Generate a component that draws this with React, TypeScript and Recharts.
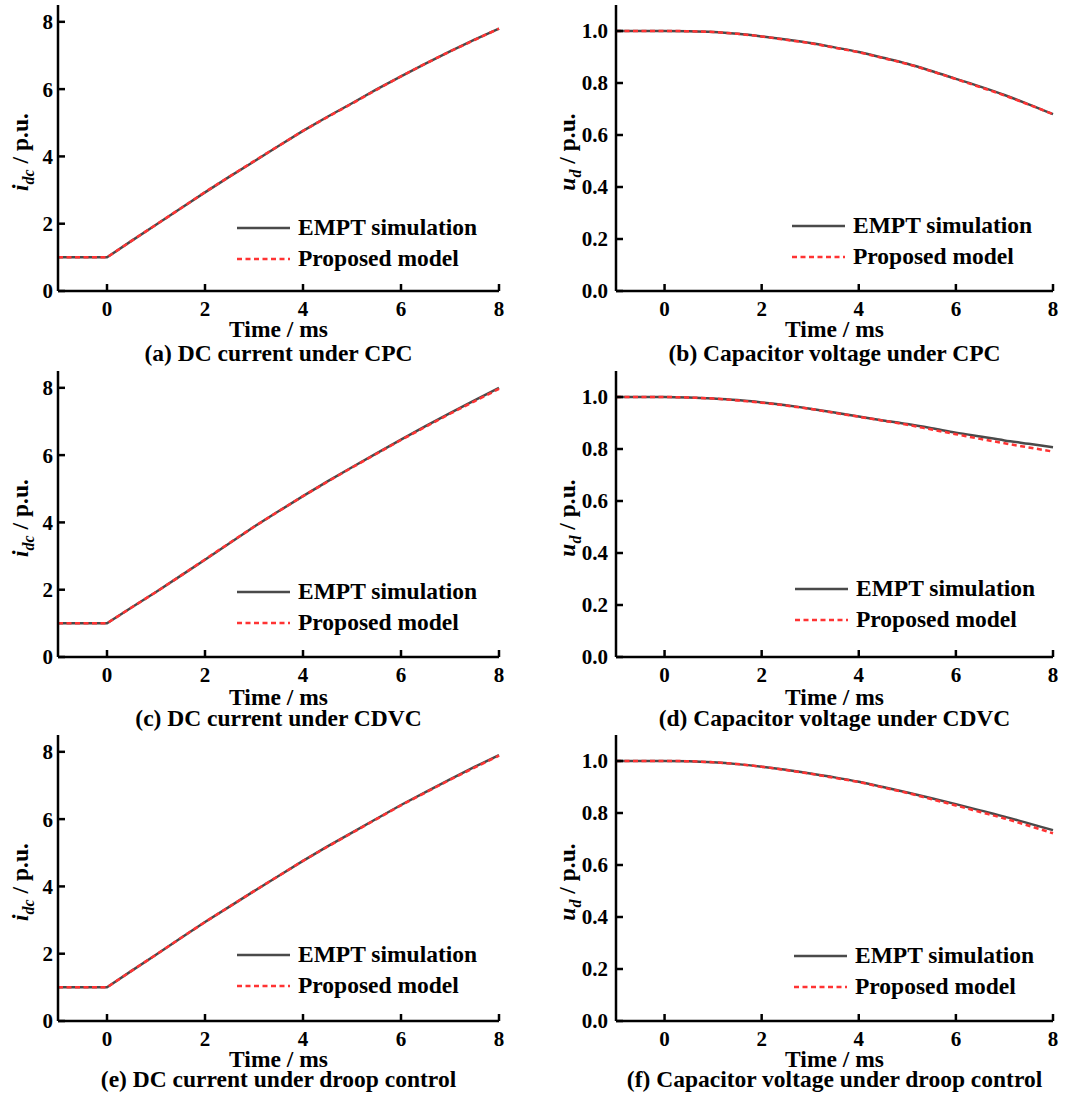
import { LineChart, Line, XAxis, YAxis, Legend } from 'recharts'

// time axis (ms), shared by every panel
const time = [-1, 0, 0.5, 1, 1.5, 2, 2.5, 3, 3.5, 4, 4.5, 5, 5.5, 6, 6.5, 7, 7.5, 8]
const timeTicks = [0, 2, 4, 6, 8]
const currentTicks = [0, 2, 4, 6, 8]
const voltageTicks = [0, 0.2, 0.4, 0.6, 0.8, 1.0]

// DC current (p.u.)
const idcCpcEmpt = [1, 1, 1.49, 1.97, 2.45, 2.93, 3.4, 3.85, 4.31, 4.76, 5.18, 5.58, 5.99, 6.38, 6.76, 7.12, 7.47, 7.8]
const idcCpcModel = [1, 1, 1.49, 1.97, 2.45, 2.94, 3.4, 3.86, 4.31, 4.76, 5.17, 5.57, 5.98, 6.38, 6.76, 7.12, 7.46, 7.8]
const idcCdvcEmpt = [1, 1, 1.47, 1.93, 2.41, 2.89, 3.38, 3.87, 4.33, 4.78, 5.22, 5.64, 6.05, 6.46, 6.86, 7.25, 7.63, 8.0]
const idcCdvcModel = [1, 1, 1.47, 1.93, 2.41, 2.9, 3.39, 3.87, 4.33, 4.78, 5.21, 5.63, 6.04, 6.45, 6.84, 7.23, 7.6, 7.97]
const idcDroopEmpt = [1, 1, 1.49, 1.97, 2.46, 2.94, 3.4, 3.86, 4.31, 4.76, 5.19, 5.6, 6.01, 6.42, 6.8, 7.18, 7.55, 7.9]
const idcDroopModel = [1, 1, 1.49, 1.97, 2.46, 2.94, 3.4, 3.86, 4.31, 4.76, 5.18, 5.59, 6.0, 6.41, 6.79, 7.17, 7.53, 7.89]

// capacitor voltage (p.u.)
const udCpcEmpt = [1, 1, 0.999, 0.996, 0.989, 0.979, 0.967, 0.954, 0.937, 0.919, 0.897, 0.874, 0.846, 0.816, 0.786, 0.754, 0.718, 0.68]
const udCpcModel = [1, 1, 0.999, 0.996, 0.989, 0.979, 0.966, 0.953, 0.936, 0.918, 0.896, 0.873, 0.845, 0.815, 0.784, 0.752, 0.717, 0.68]
const udCdvcEmpt = [1, 1, 0.998, 0.994, 0.988, 0.979, 0.968, 0.955, 0.94, 0.925, 0.91, 0.896, 0.88, 0.863, 0.848, 0.833, 0.82, 0.807]
const udCdvcModel = [1, 1, 0.998, 0.994, 0.987, 0.978, 0.967, 0.954, 0.939, 0.924, 0.909, 0.893, 0.875, 0.857, 0.839, 0.822, 0.806, 0.79]
const udDroopEmpt = [1, 1, 0.999, 0.995, 0.988, 0.978, 0.966, 0.952, 0.937, 0.92, 0.9, 0.879, 0.857, 0.834, 0.81, 0.786, 0.76, 0.734]
const udDroopModel = [1, 1, 0.999, 0.995, 0.988, 0.978, 0.965, 0.951, 0.935, 0.919, 0.898, 0.877, 0.853, 0.829, 0.804, 0.779, 0.751, 0.722]

const SERIF = "'Times New Roman', 'Liberation Serif', serif"
const EMPT_COLOR = '#4a4a4a'
const MODEL_COLOR = '#ff3333'
const MODEL_DASH = '5 3.5'

type PanelCfg = {
  left: number
  top: number
  width: number
  right: number
  yWidth: number
  kind: 'idc' | 'ud'
  empt: number[]
  model: number[]
  caption: string
  legendX: number
  legendY: number
  titleDy: number
  captionDy: number
  yTickMargin: number
}

const PLOT_H = 286

function LegendBox({ payload }: any) {
  return (
    <div style={{ fontFamily: SERIF, fontWeight: 'bold', fontSize: 23.5, color: '#000' }}>
      {(payload || []).map((p: any) => (
        <div key={p.value} style={{ display: 'flex', alignItems: 'center', height: 31, whiteSpace: 'nowrap' }}>
          <svg width={53} height={6}>
            <line
              x1={0} y1={3} x2={53} y2={3}
              stroke={p.color}
              strokeWidth={2.5}
              strokeDasharray={p.value === 'Proposed model' ? MODEL_DASH : undefined}
            />
          </svg>
          <span style={{ marginLeft: 8 }}>{p.value}</span>
        </div>
      ))}
    </div>
  )
}

function Panel({ cfg }: { cfg: PanelCfg }) {
  const data = time.map((t, i) => ({ t, empt: cfg.empt[i], model: cfg.model[i] }))
  const height = PLOT_H + 5 + 42
  const plotLeft = cfg.yWidth
  const plotRight = cfg.width - cfg.right
  const cx = (plotLeft + plotRight) / 2
  const plotBottom = 5 + PLOT_H
  const isI = cfg.kind === 'idc'
  const curve = isI ? 'linear' : 'monotone'
  const tickStyle = { fontFamily: SERIF, fontWeight: 'bold', fontSize: 21, fill: '#000' }
  const axisLine = { stroke: '#000', strokeWidth: 2.5 }
  const tickLine = { stroke: '#000', strokeWidth: 2.5 }
  const textStyle = {
    position: 'absolute' as const,
    fontFamily: SERIF, fontWeight: 'bold', fontSize: 23.5, whiteSpace: 'nowrap' as const, lineHeight: 1,
  }

  return (
    <div style={{ position: 'absolute', left: cfg.left, top: cfg.top, width: cfg.width, height: 380 }}>
      <LineChart width={cfg.width} height={height} data={data} margin={{ top: 5, right: cfg.right, left: 0, bottom: 0 }}>
        <XAxis
          xAxisId="b" dataKey="t" type="number" domain={[-1, 8]} ticks={timeTicks}
          height={42} tickSize={-7} tickMargin={17} tick={tickStyle}
          axisLine={axisLine} tickLine={tickLine}
        />
        <XAxis
          xAxisId="t" orientation="top" dataKey="t" type="number" domain={[-1, 8]} ticks={timeTicks}
          height={0} tickSize={-7} tickFormatter={() => ''}
          axisLine={axisLine} tickLine={tickLine}
        />
        <YAxis
          yAxisId="l" type="number" width={cfg.yWidth}
          domain={isI ? [0, 8.5] : [0, 1.1]} ticks={isI ? currentTicks : voltageTicks}
          tickFormatter={(v: number) => (isI ? String(v) : v.toFixed(1))}
          tickSize={-7} tickMargin={cfg.yTickMargin} tick={tickStyle}
          axisLine={axisLine} tickLine={tickLine}
        />
        <YAxis
          yAxisId="r" orientation="right" type="number" width={0}
          domain={isI ? [0, 8.5] : [0, 1.1]} ticks={isI ? currentTicks : voltageTicks}
          tickSize={-7} tickFormatter={() => ''}
          axisLine={axisLine} tickLine={tickLine}
        />
        <Line
          xAxisId="b" yAxisId="l" type={curve} dataKey="empt" name="EMPT simulation"
          stroke={EMPT_COLOR} strokeWidth={2.5} dot={false} isAnimationActive={false}
        />
        <Line
          xAxisId="b" yAxisId="l" type={curve} dataKey="model" name="Proposed model"
          stroke={MODEL_COLOR} strokeWidth={2.5} strokeDasharray={MODEL_DASH} dot={false} isAnimationActive={false}
        />
        <Legend
          layout="vertical" align="center" verticalAlign="middle"
          wrapperStyle={{ left: cfg.legendX, top: cfg.legendY, width: 'auto' }}
          content={(props: any) => <LegendBox payload={props.payload} />}
        />
      </LineChart>

      {/* y-axis title */}
      <div
        style={{
          ...textStyle, left: isI ? 23 : 30, top: 5 + PLOT_H / 2 + 4,
          transform: 'translate(-50%, -50%) rotate(-90deg)',
        }}
      >
        <i>{isI ? 'i' : 'u'}</i>
        <sub style={{ fontSize: 16, fontStyle: 'italic' }}>{isI ? 'dc' : 'd'}</sub>
        {' / p.u.'}
      </div>

      {/* x-axis title */}
      <div style={{ ...textStyle, left: cx, top: plotBottom + cfg.titleDy, transform: 'translate(-50%, -50%)' }}>
        Time / ms
      </div>

      {/* caption */}
      <div style={{ ...textStyle, left: cx, top: plotBottom + cfg.captionDy, transform: 'translate(-50%, -50%)' }}>
        {cfg.caption}
      </div>
    </div>
  )
}

const panels: PanelCfg[] = [
  { left: 0, top: 0, width: 540, right: 41, yWidth: 58, kind: 'idc', empt: idcCpcEmpt, model: idcCpcModel,
    caption: '(a) DC current under CPC', legendX: 237, legendY: 212, titleDy: 39, captionDy: 63, yTickMargin: 12 },
  { left: 540, top: 0, width: 543, right: 30, yWidth: 76, kind: 'ud', empt: udCpcEmpt, model: udCpcModel,
    caption: '(b) Capacitor voltage under CPC', legendX: 252, legendY: 210, titleDy: 39, captionDy: 63, yTickMargin: 15 },
  { left: 0, top: 366, width: 540, right: 41, yWidth: 58, kind: 'idc', empt: idcCdvcEmpt, model: idcCdvcModel,
    caption: '(c) DC current under CDVC', legendX: 237, legendY: 210, titleDy: 41, captionDy: 62, yTickMargin: 12 },
  { left: 540, top: 366, width: 543, right: 30, yWidth: 76, kind: 'ud', empt: udCdvcEmpt, model: udCdvcModel,
    caption: '(d) Capacitor voltage under CDVC', legendX: 255, legendY: 207, titleDy: 41, captionDy: 62, yTickMargin: 15 },
  { left: 0, top: 730, width: 540, right: 41, yWidth: 58, kind: 'idc', empt: idcDroopEmpt, model: idcDroopModel,
    caption: '(e) DC current under droop control', legendX: 237, legendY: 209, titleDy: 39, captionDy: 59, yTickMargin: 12 },
  { left: 540, top: 730, width: 543, right: 30, yWidth: 76, kind: 'ud', empt: udDroopEmpt, model: udDroopModel,
    caption: '(f) Capacitor voltage under droop control', legendX: 254, legendY: 210, titleDy: 39, captionDy: 59, yTickMargin: 15 },
]

export default function App() {
  return (
    <div style={{ position: 'absolute', left: 0, top: 0, width: 1083, height: 1095, background: '#fff', overflow: 'hidden' }}>
      {panels.map((p) => <Panel key={p.caption} cfg={p} />)}
    </div>
  )
}
